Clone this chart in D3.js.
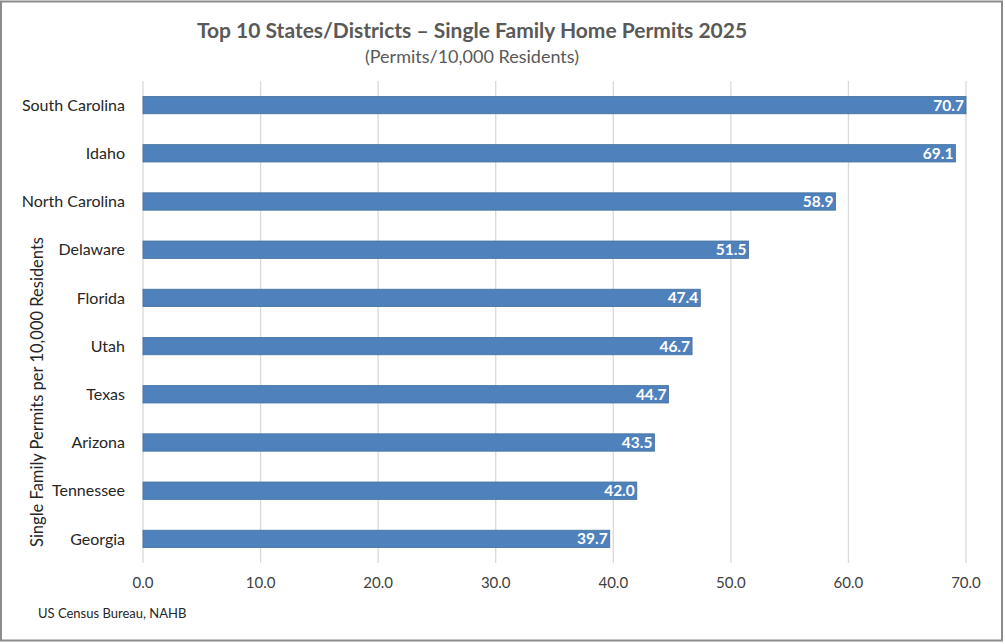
<!DOCTYPE html>
<html>
<head>
<meta charset="utf-8">
<script src="https://cdn.jsdelivr.net/npm/d3@7"></script>
<style>
  body { margin: 0; background: #fff; }
  svg { display: block; font-family: Lato, "Open Sans", sans-serif; }
</style>
</head>
<body>
<svg id="svg" width="1005" height="644"></svg>
<script>
var states = ["South Carolina", "Idaho", "North Carolina", "Delaware", "Florida",
  "Utah", "Texas", "Arizona", "Tennessee", "Georgia"];
var permits = [70.7, 69.1, 58.9, 51.5, 47.4, 46.7, 44.7, 43.5, 42.0, 39.7];
var xTicks = [0, 10, 20, 30, 40, 50, 60, 70];

var data = states.map((s, i) => ({ state: s, value: permits[i] }));

var svg = d3.select("#svg");

// outer frame
svg.append("rect")
  .attr("x", 1).attr("y", 1.5)
  .attr("width", 1001).attr("height", 639)
  .attr("fill", "none")
  .attr("stroke", "#8c8c8c")
  .attr("stroke-width", 2);

// axis max is fixed at 70, so longer bars get clipped like in Excel
var xScale = d3.scaleLinear().domain([0, 70]).range([143, 966]).clamp(true);
var yScale = d3.scaleBand().domain(states).range([81, 563]).paddingInner(0.64).paddingOuter(0.32);

// gridlines
svg.append("g")
  .selectAll("line")
  .data(xTicks)
  .enter()
  .append("line")
  .attr("x1", d => xScale(d))
  .attr("x2", d => xScale(d))
  .attr("y1", 81)
  .attr("y2", 563)
  .attr("stroke", "#d9d9d9")
  .attr("stroke-width", 1.3);

// x tick labels
svg.append("g")
  .selectAll("text")
  .data(xTicks)
  .enter()
  .append("text")
  .attr("x", d => xScale(d))
  .attr("y", 588)
  .attr("text-anchor", "middle")
  .attr("font-size", 15)
  .attr("fill", "#404040")
  .text(d => d3.format(".1f")(d));

// bars
svg.append("g")
  .selectAll("rect")
  .data(data)
  .enter()
  .append("rect")
  .attr("x", xScale(0))
  .attr("y", d => yScale(d.state))
  .attr("width", d => xScale(d.value) - xScale(0))
  .attr("height", yScale.bandwidth())
  .attr("fill", "#4f81bd")
  .attr("stroke", "#41719c")
  .attr("stroke-width", 0.8);

// value labels
svg.append("g")
  .selectAll("text")
  .data(data)
  .enter()
  .append("text")
  .attr("x", d => xScale(d.value) - 2)
  .attr("y", d => yScale(d.state) + yScale.bandwidth() / 2)
  .attr("dy", "0.36em")
  .attr("text-anchor", "end")
  .attr("font-size", 15.5)
  .attr("font-weight", "bold")
  .attr("fill", "#fff")
  .text(d => d3.format(".1f")(d.value));

// category labels
svg.append("g")
  .selectAll("text")
  .data(data)
  .enter()
  .append("text")
  .attr("x", 125)
  .attr("y", d => yScale(d.state) + yScale.bandwidth() / 2)
  .attr("dy", "0.36em")
  .attr("text-anchor", "end")
  .attr("font-size", 16)
  .attr("fill", "#262626")
  .text(d => d.state);

// titles
svg.append("text")
  .attr("x", 472).attr("y", 38)
  .attr("text-anchor", "middle")
  .attr("font-size", 21)
  .attr("font-weight", "bold")
  .attr("fill", "#595959")
  .text("Top 10 States/Districts \u2013 Single Family Home Permits 2025");

svg.append("text")
  .attr("x", 472).attr("y", 63)
  .attr("text-anchor", "middle")
  .attr("font-size", 18)
  .attr("fill", "#595959")
  .text("(Permits/10,000 Residents)");

// vertical axis title
svg.append("text")
  .attr("transform", "translate(43, 392) rotate(-90)")
  .attr("text-anchor", "middle")
  .attr("font-size", 16.5)
  .attr("fill", "#262626")
  .text("Single Family Permits per 10,000 Residents");

// source
svg.append("text")
  .attr("x", 38).attr("y", 618)
  .attr("font-size", 13)
  .attr("fill", "#262626")
  .text("US Census Bureau, NAHB");
</script>
</body>
</html>
